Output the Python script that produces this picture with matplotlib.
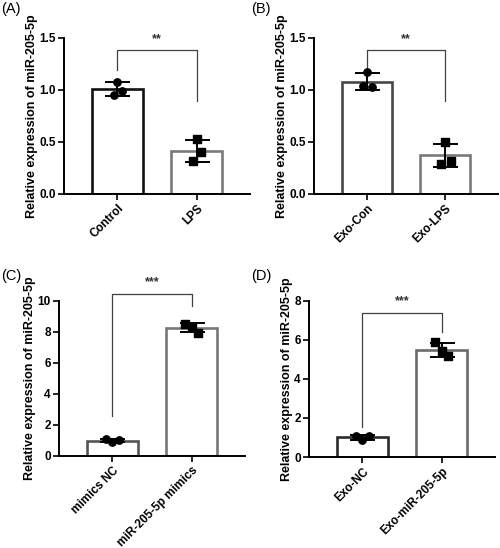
import numpy as np
import matplotlib
matplotlib.use('Agg')
import matplotlib.pyplot as plt

plt.rcParams['font.family'] = ['Liberation Sans', 'DejaVu Sans']

# (A) Control vs LPS
groups_a = ['Control', 'LPS']
points_a = [[1.08, 0.99, 0.95], [0.53, 0.40, 0.32]]
# (B) Exo-Con vs Exo-LPS
groups_b = ['Exo-Con', 'Exo-LPS']
points_b = [[1.17, 1.03, 1.04], [0.50, 0.32, 0.29]]
# (C) mimics
groups_c = ['mimics NC', 'miR-205-5p mimics']
points_c = [[1.08, 0.88, 1.00], [8.52, 8.33, 7.95]]
# (D) exosome mimics
groups_d = ['Exo-NC', 'Exo-miR-205-5p']
points_d = [[1.08, 0.88, 1.06], [5.88, 5.42, 5.15]]

stars = ['**', '**', '***', '***']
ylims = [1.5, 1.5, 10, 8]
yticks = [np.arange(0, 1.51, 0.5), np.arange(0, 1.51, 0.5),
          np.arange(0, 10.1, 2), np.arange(0, 8.1, 2)]
tickfmt = ['{:.1f}', '{:.1f}', '{:.0f}', '{:.0f}']
# bracket: top, left leg end, right leg end
brackets = [(1.38, 1.19, 0.89), (1.38, 1.21, 0.89),
            (10.47, 2.57, 9.70), (7.40, 1.54, 6.41)]
edge_colors = [('#111111', '#7a7a7a'), ('#484848', '#7a7a7a'),
               ('#555555', '#777777'), ('#2a2a2a', '#6a6a6a')]
jitter = [[0.0, 0.06, -0.05], [0.0, 0.07, -0.05], [-0.08, 0.0, 0.08]]

fig = plt.figure(figsize=(5, 5.48), dpi=100)
positions = [[0.128, 0.646, 0.372, 0.285],
             [0.628, 0.646, 0.368, 0.285],
             [0.118, 0.168, 0.372, 0.283],
             [0.618, 0.166, 0.372, 0.285]]
panel_labels = ['(A)', '(B)', '(C)', '(D)']
label_xy = [(0.002, 0.997), (0.502, 0.997), (0.002, 0.51), (0.502, 0.51)]

all_groups = [groups_a, groups_b, groups_c, groups_d]
all_points = [points_a, points_b, points_c, points_d]

for i in range(4):
    ax = fig.add_axes(positions[i])
    x = np.arange(2)
    vals = [np.array(p) for p in all_points[i]]
    means = [v.mean() for v in vals]
    sds = [v.std(ddof=1) for v in vals]
    ax.bar(x, means, width=0.65, color='white',
           edgecolor=edge_colors[i], linewidth=1.9, zorder=1)
    ax.errorbar(x, means, yerr=sds, fmt='none', ecolor='black',
                elinewidth=1.4, capsize=9, capthick=1.4, zorder=2)
    markers = ['o', 's']
    for j in range(2):
        offs = jitter[i % 3] if i < 2 else jitter[2]
        ax.scatter(x[j] + np.array(offs), vals[j], marker=markers[j],
                   s=28, color='black', zorder=3)
    top, lleg, rleg = brackets[i]
    ax.plot([0, 0, 1, 1], [lleg, top, top, rleg], color='#404040',
            lw=0.9, clip_on=False, zorder=2)
    ax.text(0.5, top + ylims[i] * 0.035, stars[i], ha='center', va='bottom',
            fontsize=9, fontweight='bold', color='#333333')

    ax.set_xlim(-0.677, 1.677)
    ax.set_ylim(0, ylims[i])
    ax.set_yticks(yticks[i])
    ax.set_yticklabels([tickfmt[i].format(t) for t in yticks[i]],
                       fontweight='bold', fontsize=8.5)
    ax.set_xticks(x)
    ax.set_xticklabels(all_groups[i], rotation=45, ha='right',
                       rotation_mode='anchor', fontweight='bold', fontsize=8.5)
    ax.set_ylabel('Relative expression of miR-205-5p', fontweight='bold',
                  fontsize=9, labelpad=1)
    for s in ['top', 'right']:
        ax.spines[s].set_visible(False)
    for s in ['left', 'bottom']:
        ax.spines[s].set_linewidth(1.4)
    ax.tick_params(width=1.2, length=4, direction='out', pad=2)
    fig.text(label_xy[i][0], label_xy[i][1], panel_labels[i], fontsize=10.5,
             ha='left', va='top')

fig.savefig('out.png', dpi=100)
